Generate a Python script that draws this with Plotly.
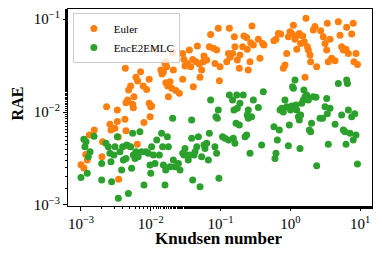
import plotly.graph_objects as go

# Euler series (Knudsen number, RAE)
euler_kn = [1.0e-3, 1.1e-3, 1.17e-3, 1.23e-3, 1.32e-3, 1.55e-3, 2.04e-3, 2.0e-3, 2.33e-3, 2.6e-3,
            2.69e-3, 3.07e-3, 3.32e-3, 3.32e-3, 3.43e-3, 3.47e-3, 4.32e-3, 4.42e-3, 4.67e-3, 4.83e-3,
            5.15e-3, 5.5e-3, 5.63e-3, 5.75e-3, 6.14e-3, 6.49e-3, 7.16e-3, 4.27e-3, 4.42e-3, 4.78e-3,
            6.42e-3, 7.8e-3, 8.0e-3, 8.74e-3, 9.5e-3, 9.5e-3, 1.0e-2, 9.8e-3, 1.03e-2, 1.15e-2,
            1.40e-2, 1.45e-2, 1.52e-2, 1.60e-2, 1.65e-2, 1.69e-2, 1.65e-2, 1.75e-2, 1.79e-2, 1.89e-2,
            2.0e-2, 2.06e-2, 2.11e-2, 2.30e-2, 2.57e-2, 2.87e-2, 2.87e-2, 3.0e-2, 3.1e-2, 3.35e-2,
            3.58e-2, 3.74e-2, 3.99e-2, 4.08e-2, 4.46e-2, 4.66e-2, 4.98e-2, 5.09e-2, 5.37e-2, 5.67e-2,
            5.80e-2, 6.34e-2, 6.92e-2, 7.22e-2, 7.9e-2, 8.33e-2, 8.8e-2, 9.3e-2, 9.64e-2, 9.85e-2,
            0.123, 0.130, 0.134, 0.137, 0.149, 0.158, 0.161, 0.174, 0.186, 0.190,
            0.208, 0.217, 0.237, 0.242, 0.250, 0.265, 0.271, 0.283, 0.296, 0.349,
            0.368, 0.402, 0.420, 0.584, 0.624, 0.675, 0.730, 0.796, 0.84, 0.89,
            0.94, 0.99, 1.05, 1.11, 1.17, 1.24, 1.28, 1.35, 1.41, 1.51,
            1.59, 1.68, 1.63, 1.76, 1.82, 1.92, 1.96, 2.14, 2.26, 2.39,
            2.73, 2.98, 3.15, 3.33, 3.51, 3.4, 3.72, 3.92, 4.39, 4.89,
            5.17, 5.46, 5.77, 6.3, 6.81, 6.44, 7.6, 8.0, 8.2, 8.76, 9.19]
euler_rae = [2.7e-3, 2.5e-3, 3.5e-3, 3.05e-3, 5.66e-3, 6.4e-3, 4.8e-3, 3.3e-3, 1.14e-2, 7.4e-3,
             6.4e-3, 6.7e-3, 1.05e-2, 7.9e-3, 5.4e-3, 1.89e-3, 2.95e-2, 1.26e-2, 1.35e-2, 1.72e-2,
             1.90e-2, 1.21e-2, 1.11e-2, 1.46e-2, 2.36e-2, 2.15e-2, 2.71e-2, 8.35e-3, 6.3e-3, 4.3e-3,
             4.5e-3, 1.90e-2, 7.7e-3, 1.75e-2, 2.25e-2, 1.24e-2, 1.14e-2, 8.9e-3, 1.16e-2, 4.72e-2,
             2.83e-2, 2.56e-2, 2.71e-2, 3.33e-2, 3.48e-2, 3.07e-2, 2.07e-2, 1.90e-2, 1.46e-2, 2.12e-2,
             1.80e-2, 4.38e-2, 2.83e-2, 1.70e-2, 1.59e-2, 2.25e-2, 4.27e-2, 3.68e-2, 3.12e-2, 3.33e-2,
             4.64e-2, 3.07e-2, 3.68e-2, 1.87e-2, 3.48e-2, 5.12e-2, 3.28e-2, 2.36e-2, 2.83e-2, 3.48e-2,
             4.0e-2, 3.62e-2, 5.04e-2, 6.84e-2, 4.84e-2, 3.33e-2, 4.64e-2, 7.94e-2, 2.17e-2, 3.07e-2,
             3.48e-2, 4.27e-2, 7.94e-2, 3.87e-2, 4.27e-2, 6.45e-2, 5.04e-2, 3.62e-2, 2.95e-2, 4.1e-2,
             5.04e-2, 6.57e-2, 6.35e-2, 4.72e-2, 2.83e-2, 3.48e-2, 5.57e-2, 8.4e-2, 5.25e-2, 6.05e-2,
             3.78e-2, 5.47e-2, 5.25e-2, 5.85e-2, 6.05e-2, 7.0e-2, 6.9e-2, 2.95e-2, 3.2e-2, 4.27e-2,
             6.45e-2, 7.3e-2, 7.0e-2, 8.6e-2, 6.05e-2, 4.72e-2, 6.7e-2, 7.0e-2, 5.47e-2, 6.57e-2,
             5.7e-2, 1.02e-1, 2.36e-2, 5.04e-2, 4.64e-2, 4.1e-2, 3.48e-2, 7.6e-2, 8.3e-2, 3.07e-2,
             7.5e-2, 6.45e-2, 5.47e-2, 4.64e-2, 3.48e-2, 9.0e-2, 6.05e-2, 3.78e-2, 3.56e-2, 9.35e-2,
             6.7e-2, 5.04e-2, 4.64e-2, 4.72e-2, 4.27e-2, 8.15e-2, 6.9e-2, 9.0e-2, 3.48e-2, 4.27e-2, 3.25e-2]

# EncE2EMLC series (Knudsen number, RAE)
enc_kn = [1.0e-3, 1.1e-3, 1.14e-3, 1.18e-3, 1.23e-3, 1.27e-3, 1.35e-3, 1.54e-3, 1.98e-3, 1.98e-3,
          2.28e-3, 2.46e-3, 2.6e-3, 2.69e-3, 2.75e-3, 2.97e-3, 3.07e-3, 3.32e-3, 3.43e-3, 3.62e-3,
          3.83e-3, 3.96e-3, 4.05e-3, 4.42e-3, 4.52e-3, 4.78e-3, 5.15e-3, 5.32e-3, 5.5e-3, 5.63e-3,
          5.95e-3, 6.14e-3, 6.6e-3, 7.0e-3, 7.4e-3, 8.0e-3, 8.55e-3, 9.2e-3, 9.75e-3, 1.0e-2,
          1.03e-2, 1.09e-2, 1.15e-2, 1.22e-2, 1.33e-2, 1.43e-2, 1.48e-2, 1.52e-2, 1.60e-2, 1.64e-2,
          1.73e-2, 1.79e-2, 1.89e-2, 2.06e-2, 2.11e-2, 2.23e-2, 2.49e-2, 2.63e-2, 2.87e-2, 3.0e-2,
          3.1e-2, 3.27e-2, 3.45e-2, 3.65e-2, 3.86e-2, 3.86e-2, 3.99e-2, 4.17e-2, 4.32e-2, 4.57e-2,
          4.82e-2, 5.09e-2, 5.37e-2, 5.80e-2, 6.0e-2, 6.34e-2, 6.7e-2, 6.92e-2, 7.22e-2, 8.33e-2,
          8.6e-2, 8.8e-2, 9.0e-2, 9.3e-2, 9.5e-2, 0.107, 0.116, 0.130, 0.134, 0.149,
          0.153, 0.156, 0.161, 0.167, 0.171, 0.174, 0.186, 0.190, 0.212, 0.225,
          0.237, 0.242, 0.250, 0.250, 0.265, 0.279, 0.296, 0.349, 0.389, 0.411,
          0.584, 0.604, 0.624, 0.653, 0.697, 0.714, 0.755, 0.796, 0.84, 0.89,
          0.94, 0.97, 1.01, 1.05, 1.08, 1.11, 1.17, 1.21, 1.24, 1.31,
          1.35, 1.38, 1.41, 1.46, 1.54, 1.57, 1.63, 1.72, 1.82, 1.88,
          1.96, 2.02, 2.14, 2.34, 2.39, 2.67, 2.91, 3.15, 3.33, 3.4,
          3.51, 3.72, 4.39, 4.89, 5.46, 5.77, 6.1, 6.3, 6.44, 6.6,
          6.81, 7.2, 7.6, 8.0, 8.4, 8.76, 9.19]
enc_rae = [1.97e-3, 5.08e-3, 4.24e-3, 4.8e-3, 2.19e-3, 3.3e-3, 3.74e-3, 5.5e-3, 2.8e-3, 1.86e-3,
           4.6e-3, 4.24e-3, 3.6e-3, 2.92e-3, 1.78e-3, 3.45e-3, 4.24e-3, 5.43e-3, 1.18e-3, 3.74e-3,
           2.38e-3, 4.24e-3, 3.05e-3, 3.17e-3, 4.41e-3, 1.33e-3, 4.24e-3, 2.48e-3, 5.9e-3, 3.45e-3,
           3.17e-3, 3.74e-3, 3.3e-3, 6.15e-3, 3.74e-3, 1.64e-3, 3.74e-3, 3.6e-3, 2.69e-3, 2.19e-3,
           4.24e-3, 3.45e-3, 2.8e-3, 5.0e-3, 3.45e-3, 5.9e-3, 4.24e-3, 2.69e-3, 1.64e-3, 2.38e-3,
           5.43e-3, 4.24e-3, 2.58e-3, 8.56e-3, 3.05e-3, 2.58e-3, 2.8e-3, 2.38e-3, 3.6e-3, 3.45e-3,
           4.06e-3, 3.45e-3, 3.05e-3, 3.45e-3, 8.2e-3, 5.21e-3, 1.86e-3, 3.45e-3, 3.74e-3, 4.24e-3,
           5.43e-3, 1.57e-3, 3.3e-3, 4.41e-3, 4.06e-3, 4.6e-3, 3.05e-3, 5.9e-3, 1.35e-2, 4.24e-3,
           8.9e-3, 3.6e-3, 8.56e-3, 1.05e-2, 1.94e-3, 5.43e-3, 5.21e-3, 5.0e-3, 1.52e-2, 1.35e-2,
           5.21e-3, 1.05e-2, 4.6e-3, 7.55e-3, 1.52e-2, 1.1e-2, 7.25e-3, 1.24e-2, 1.52e-2, 5.43e-3,
           5.66e-3, 9.3e-3, 8.56e-3, 1.05e-2, 3.6e-3, 8.9e-3, 1.35e-2, 1.12e-2, 4.41e-3, 1.65e-2,
           6.95e-3, 3.17e-3, 3.6e-3, 5.0e-3, 6.4e-3, 1.05e-2, 1.1e-2, 1.0e-2, 1.35e-2, 1.14e-2,
           4.34e-3, 7.25e-3, 1.05e-2, 1.16e-2, 1.87e-2, 1.80e-2, 2.21e-2, 1.19e-2, 1.05e-2, 8.9e-3,
           8.2e-3, 4.06e-3, 9.3e-3, 1.24e-2, 1.35e-2, 1.72e-2, 1.46e-2, 1.52e-2, 1.35e-2, 6.4e-3,
           6.15e-3, 7.55e-3, 1.46e-2, 1.44e-2, 2.65e-3, 8.56e-3, 8.56e-3, 1.14e-2, 1.40e-2, 9.6e-3,
           4.5e-3, 1.1e-2, 7.4e-3, 2.03e-2, 9.3e-3, 6.4e-3, 6.15e-3, 4.5e-3, 2.21e-2, 2.03e-2,
           1.05e-2, 5.9e-3, 8.9e-3, 5.0e-3, 9.6e-3, 5.66e-3, 2.76e-3]

x_tick_vals = [1e-3, 1e-2, 1e-1, 1e0, 1e1]
x_tick_text = ["10<sup>−3</sup>", "10<sup>−2</sup>", "10<sup>−1</sup>", "10<sup>0</sup>", "10<sup>1</sup>"]
y_tick_vals = [1e-3, 1e-2, 1e-1]
y_tick_text = ["10<sup>−3</sup>", "10<sup>−2</sup>", "10<sup>−1</sup>"]
x_title = "Knudsen number"
y_title = "RAE"

FONT = "Liberation Serif"

fig = go.Figure()
fig.add_trace(go.Scatter(x=euler_kn, y=euler_rae, mode="markers", name="Euler",
                         marker=dict(color="#ff7f0e", size=7, line=dict(width=0))))
fig.add_trace(go.Scatter(x=enc_kn, y=enc_rae, mode="markers", name="EncE2EMLC",
                         marker=dict(color="#2ca02c", size=7, line=dict(width=0))))

axis_common = dict(type="log", showgrid=False, zeroline=False, showline=True,
                   linecolor="black", linewidth=1, mirror=True, ticks="outside",
                   ticklen=4, tickwidth=1, tickcolor="black", automargin=False,
                   tickfont=dict(family=FONT, size=15, color="black"),
                   minor=dict(ticks="outside", ticklen=2, tickwidth=0.8, tickcolor="black", showgrid=False))

fig.update_xaxes(**axis_common, range=[-3.186, 1.172], tickvals=x_tick_vals, ticktext=x_tick_text)
fig.update_yaxes(**axis_common, range=[-3.011, -0.892], tickvals=y_tick_vals, ticktext=y_tick_text)

fig.add_annotation(text="<b>" + x_title + "</b>", xref="paper", yref="paper", x=0.497, y=-0.165,
                   xanchor="center", yanchor="middle", showarrow=False,
                   font=dict(family=FONT, size=17, color="black"))
fig.add_annotation(text="<b>" + y_title + "</b>", xref="paper", yref="paper", x=-0.163, y=0.523,
                   xanchor="center", yanchor="middle", showarrow=False, textangle=-90,
                   font=dict(family=FONT, size=16, color="black"))

# The page body has an 8px default margin, so the figure is sized to fit the window.
fig.update_layout(
    width=366, height=239,
    margin=dict(l=60, r=2, t=1, b=41),
    plot_bgcolor="white", paper_bgcolor="white",
    showlegend=True,
    legend=dict(x=0.016, y=0.98, xanchor="left", yanchor="top",
                bgcolor="rgba(255,255,255,0.8)", bordercolor="#cccccc", borderwidth=1,
                font=dict(family=FONT, size=11, color="black"),
                tracegroupgap=0, itemwidth=30),
)

fig.write_html("out.html")
